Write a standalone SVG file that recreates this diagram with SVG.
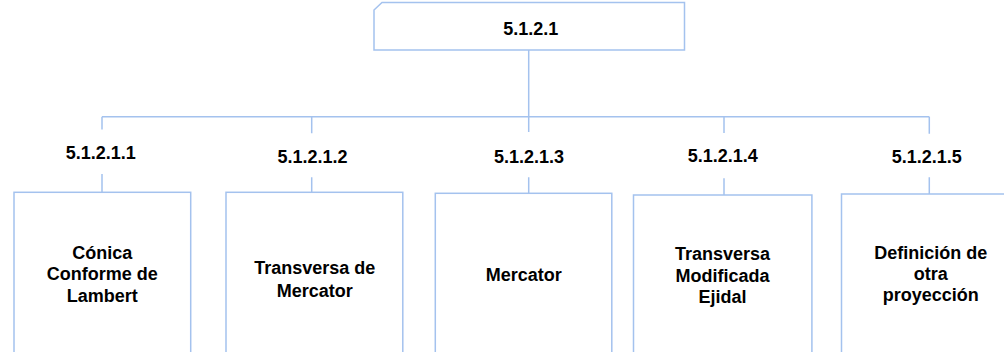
<svg xmlns="http://www.w3.org/2000/svg" width="1004" height="352" viewBox="0 0 1004 352">
<style>
.box{fill:#ffffff;stroke:#a4c2ee;stroke-width:1.5}
.ln{fill:none;stroke:#a4c2ee;stroke-width:1.5}
text{font-family:"Liberation Sans",Arial,sans-serif;font-weight:bold;font-size:18px;fill:#000;text-anchor:middle}
</style>
<rect width="1004" height="352" fill="#ffffff"/>
<g id="connectors">
<path class="ln" d="M528.7,50 V116.7 M102,116.7 H929.3"/>
<path class="ln" d="M102,116.7 V129.5 M102,174 V192.3"/>
<path class="ln" d="M311.7,116.7 V133.3 M311.7,177.3 V192.3"/>
<path class="ln" d="M528.7,116.7 V132 M528.7,177.3 V193.3"/>
<path class="ln" d="M724,116.7 V133 M724,178.3 V195"/>
<path class="ln" d="M929.3,116.7 V133.7 M929.3,177.3 V194"/>
</g>
<g id="n0">
<path class="box" d="M374,10 L382,2.5 H684.5 V50 H374 Z"/>
<text x="530.7" y="34.5">5.1.2.1</text>
</g>
<g id="n1">
<text x="100.8" y="158.6">5.1.2.1.1</text>
<rect class="box" x="14" y="192.3" width="176.7" height="170"/>
<text x="102.2" y="259">Cónica</text>
<text x="102.2" y="280.3">Conforme de</text>
<text x="102.2" y="301.7">Lambert</text>
</g>
<g id="n2">
<text x="312.5" y="163">5.1.2.1.2</text>
<rect class="box" x="226" y="192.3" width="176.8" height="170"/>
<text x="314.7" y="274">Transversa de</text>
<text x="314.7" y="297">Mercator</text>
</g>
<g id="n3">
<text x="529" y="162.5">5.1.2.1.3</text>
<rect class="box" x="435.3" y="193.3" width="176.5" height="170"/>
<text x="523.7" y="281">Mercator</text>
</g>
<g id="n4">
<text x="722.8" y="162.3">5.1.2.1.4</text>
<rect class="box" x="633.5" y="195" width="178.4" height="170"/>
<text x="722.5" y="260.3">Transversa</text>
<text x="722.5" y="281.5">Modificada</text>
<text x="722.5" y="302.5">Ejidal</text>
</g>
<g id="n5">
<text x="926.8" y="163">5.1.2.1.5</text>
<rect class="box" x="841.5" y="194" width="180" height="170"/>
<text x="930.8" y="259.3">Definición de</text>
<text x="930.8" y="280.3">otra</text>
<text x="930.8" y="300.7">proyección</text>
</g>
</svg>
